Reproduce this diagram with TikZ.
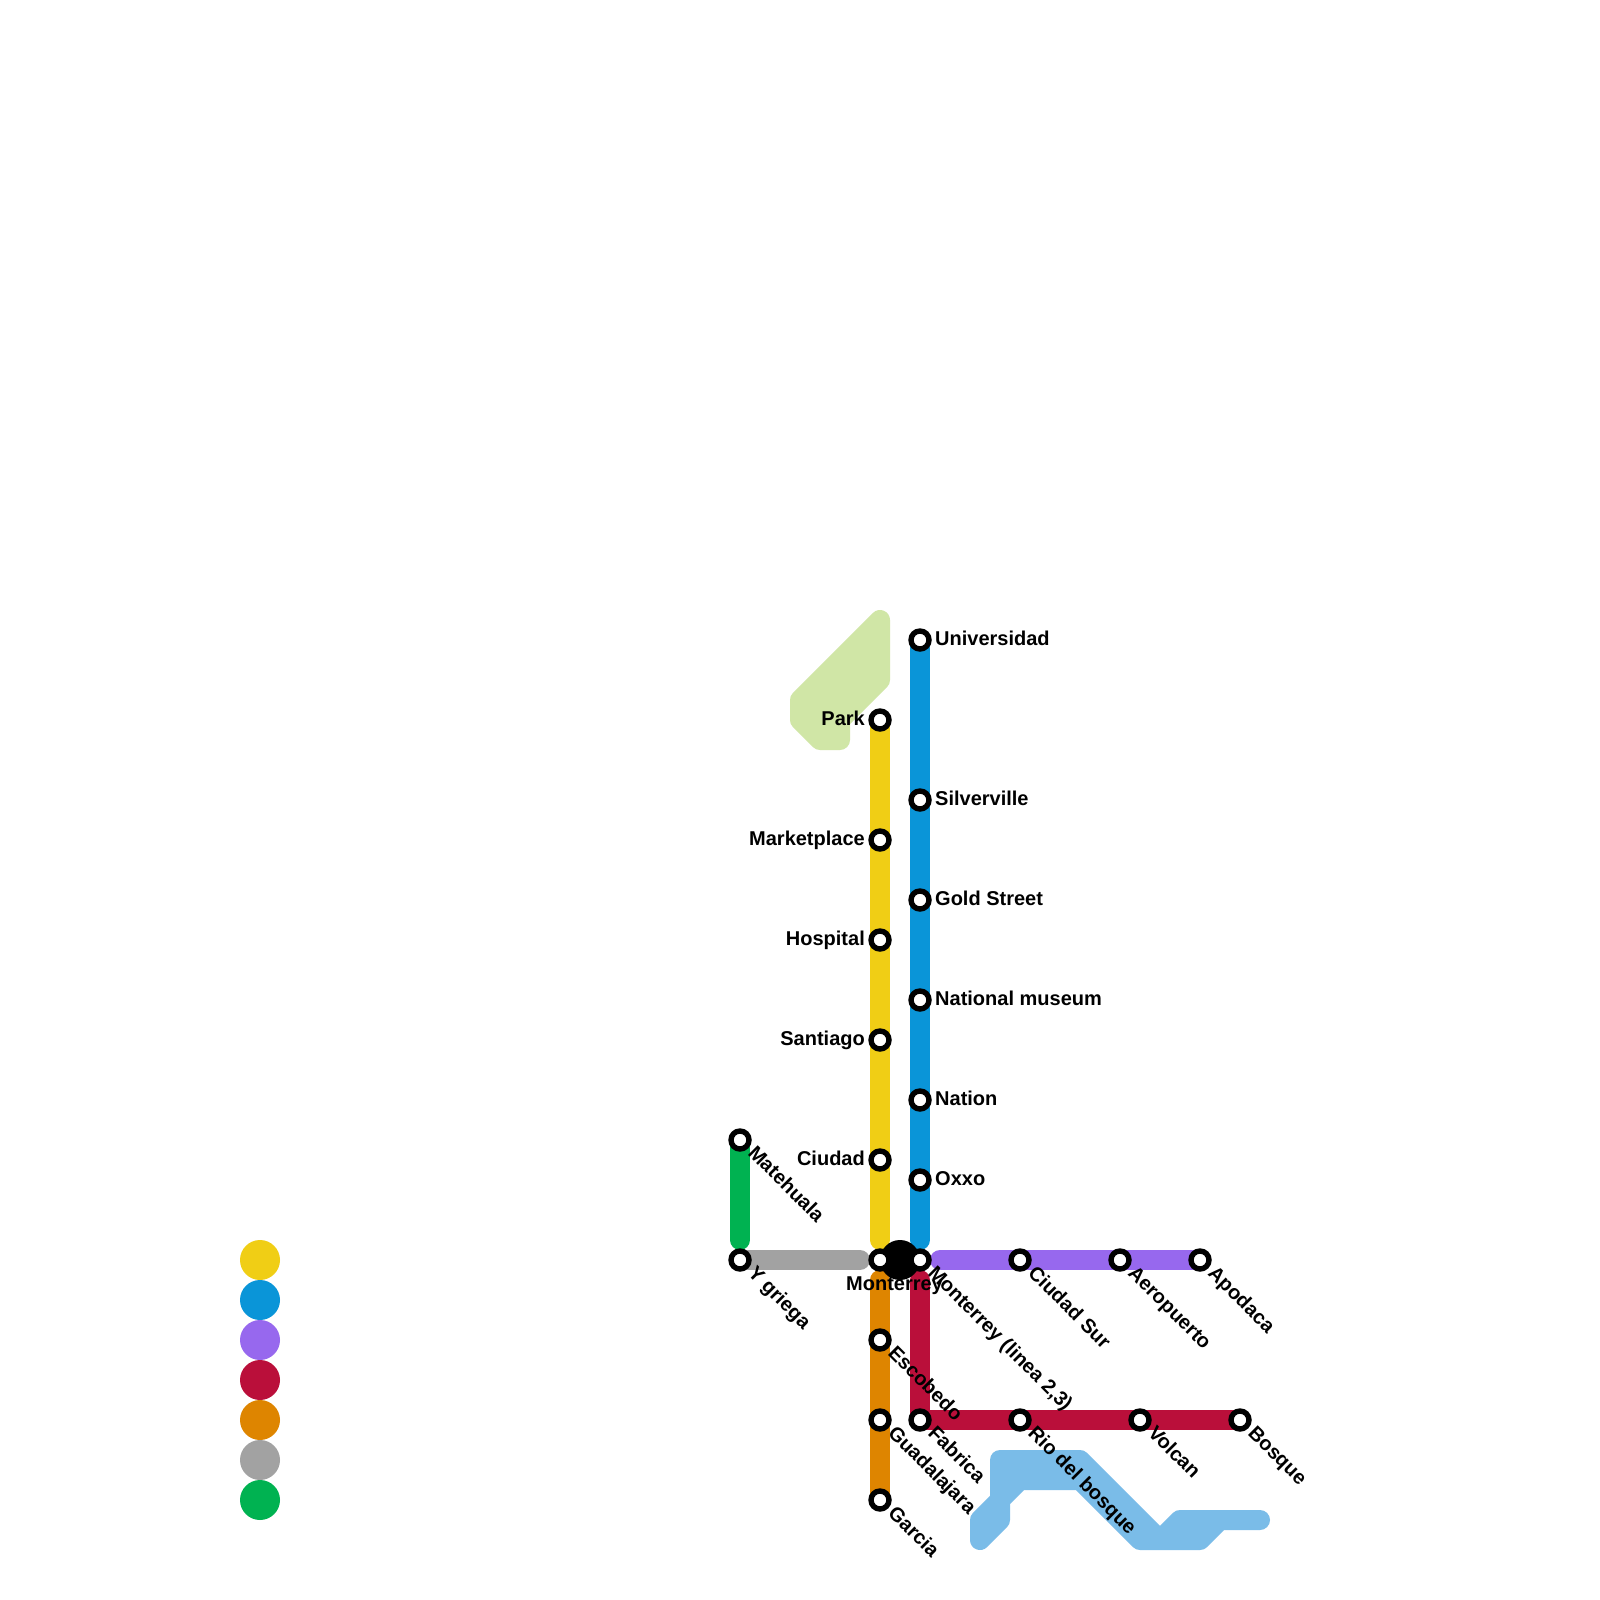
\documentclass[tikz,border=0pt]{standalone}
\usepackage{fontspec}
\setmainfont{Liberation Sans}
\usetikzlibrary{backgrounds}
\definecolor{cyellow}{HTML}{F0CE15}
\definecolor{cblue}{HTML}{0A95D8}
\definecolor{cpurple}{HTML}{9768EE}
\definecolor{cred}{HTML}{BA0F3A}
\definecolor{corange}{HTML}{DE8500}
\definecolor{cgray}{HTML}{A2A2A2}
\definecolor{cgreen}{HTML}{00B251}
\definecolor{clblue}{HTML}{7ABCE8}
\definecolor{clgreen}{HTML}{D0E6A6}
\tikzset{
  x=1pt,y=-1pt,
  stn/.style={circle,draw=black,fill=white,line width=5.4pt,inner sep=0pt,minimum size=18pt,outer sep=0pt},
  hub/.style={circle,fill=black,inner sep=0pt,minimum size=40pt},
  leg/.style={circle,inner sep=0pt,minimum size=40pt},
  route/.style={line width=20pt,line cap=round,line join=round},
  area/.style={line width=20pt,line join=round,line cap=round},
  lab/.style={font=\fontsize{20}{24}\selectfont\bfseries,inner sep=0pt,text=black},
  labr/.style={lab,anchor=base west},
  labl/.style={lab,anchor=base east},
  labd/.style={lab,anchor=base west,rotate=-45},
}
\begin{document}
\begin{tikzpicture}
\useasboundingbox (0,0) rectangle (1600,1600);
% legend
\node[leg,fill=cyellow] (l1) at (260,1260) {};
\node[leg,fill=cblue] (l2) at (260,1300) {};
\node[leg,fill=cpurple] (l3) at (260,1340) {};
\node[leg,fill=cred] (l4) at (260,1380) {};
\node[leg,fill=corange] (l5) at (260,1420) {};
\node[leg,fill=cgray] (l6) at (260,1460) {};
\node[leg,fill=cgreen] (l7) at (260,1500) {};
% hub
\node[hub] (hub) at (900,1260) {};
% free line ends
\coordinate (yend) at (880,1240);
\coordinate (bend) at (920,1240);
\coordinate (gend) at (860,1260);
\coordinate (pstart) at (940,1260);
\coordinate (ostart) at (880,1280);
\coordinate (rstart) at (920,1280);
\coordinate (gnend) at (740,1240);
% stations
\node[stn] (park) at (880,720) {};
\node[stn] (market) at (880,840) {};
\node[stn] (hospital) at (880,940) {};
\node[stn] (santiago) at (880,1040) {};
\node[stn] (ciudad) at (880,1160) {};
\node[stn] (mty) at (880,1260) {};
\node[stn] (escobedo) at (880,1340) {};
\node[stn] (guadal) at (880,1420) {};
\node[stn] (garcia) at (880,1500) {};
\node[stn] (univ) at (920,640) {};
\node[stn] (silver) at (920,800) {};
\node[stn] (gold) at (920,900) {};
\node[stn] (natm) at (920,1000) {};
\node[stn] (nation) at (920,1100) {};
\node[stn] (oxxo) at (920,1180) {};
\node[stn] (mtyb) at (920,1260) {};
\node[stn] (csur) at (1020,1260) {};
\node[stn] (aero) at (1120,1260) {};
\node[stn] (apod) at (1200,1260) {};
\node[stn] (fabrica) at (920,1420) {};
\node[stn] (rio) at (1020,1420) {};
\node[stn] (volcan) at (1140,1420) {};
\node[stn] (bosque) at (1240,1420) {};
\node[stn] (mate) at (740,1140) {};
\node[stn] (ygr) at (740,1260) {};
% routes and areas beneath
\begin{scope}[on background layer]
\fill[white] (0,0) rectangle (1600,1600);
\filldraw[area,draw=clgreen,fill=clgreen] (880,620) -- (880,680) -- (840,720) -- (840,740) -- (820,740) -- (800,720) -- (800,700) -- cycle;
\filldraw[area,draw=clblue,fill=clblue] (1000,1460) -- (1080,1460) -- (1160,1540) -- (1180,1520) -- (1260,1520) -- (1220,1520) -- (1200,1540) -- (1140,1540) -- (1080,1480) -- (1020,1480) -- (1000,1500) -- (1000,1520) -- (980,1540) -- (980,1520) -- (1000,1500) -- cycle;
\draw[route,cyellow] (park.center) -- (market.center) -- (hospital.center) -- (santiago.center) -- (ciudad.center) -- (yend);
\draw[route,cblue] (univ.center) -- (silver.center) -- (gold.center) -- (natm.center) -- (nation.center) -- (oxxo.center) -- (bend);
\draw[route,cpurple] (pstart) -- (csur.center) -- (aero.center) -- (apod.center);
\draw[route,cred] (rstart) -- (fabrica.center) -- (rio.center) -- (volcan.center) -- (bosque.center);
\draw[route,corange] (ostart) -- (escobedo.center) -- (guadal.center) -- (garcia.center);
\draw[route,cgray] (ygr.center) -- (gend);
\draw[route,cgreen] (mate.center) -- (gnend);
\end{scope}
% labels
\node[labl] (tpark) at (865,725.5) {Park};
\node[labl] (tmarket) at (865,845.5) {Marketplace};
\node[labl] (thosp) at (865,945.5) {Hospital};
\node[labl] (tsant) at (865,1045.5) {Santiago};
\node[labl] (tciud) at (865,1165.5) {Ciudad};
\node[labr] (tuniv) at (935,645.5) {Universidad};
\node[labr] (tsilver) at (935,805.5) {Silverville};
\node[labr] (tgold) at (935,905.5) {Gold Street};
\node[labr] (tnatm) at (935,1005.5) {National museum};
\node[labr] (tnation) at (935,1105.5) {Nation};
\node[labr] (toxxo) at (935,1185.5) {Oxxo};
\node[lab,anchor=base] (tmty) at (894.5,1290) {Monterrey};
\node[labd] (tmate) at (747,1154) {Matehuala};
\node[labd] (tygr) at (747,1274) {Y griega};
\node[labd] (tmtyb) at (927,1274) {Monterrey (linea 2,3)};
\node[labd] (tcsur) at (1027,1274) {Ciudad Sur};
\node[labd] (taero) at (1127,1274) {Aeropuerto};
\node[labd] (tapod) at (1207,1274) {Apodaca};
\node[labd] (tesc) at (887,1354) {Escobedo};
\node[labd] (tgua) at (887,1434) {Guadalajara};
\node[labd] (tgar) at (887,1514) {Garcia};
\node[labd] (tfab) at (927,1434) {Fabrica};
\node[labd] (trio) at (1027,1434) {Rio del bosque};
\node[labd] (tvol) at (1147,1434) {Volcan};
\node[labd] (tbos) at (1247,1434) {Bosque};
\end{tikzpicture}
\end{document}
